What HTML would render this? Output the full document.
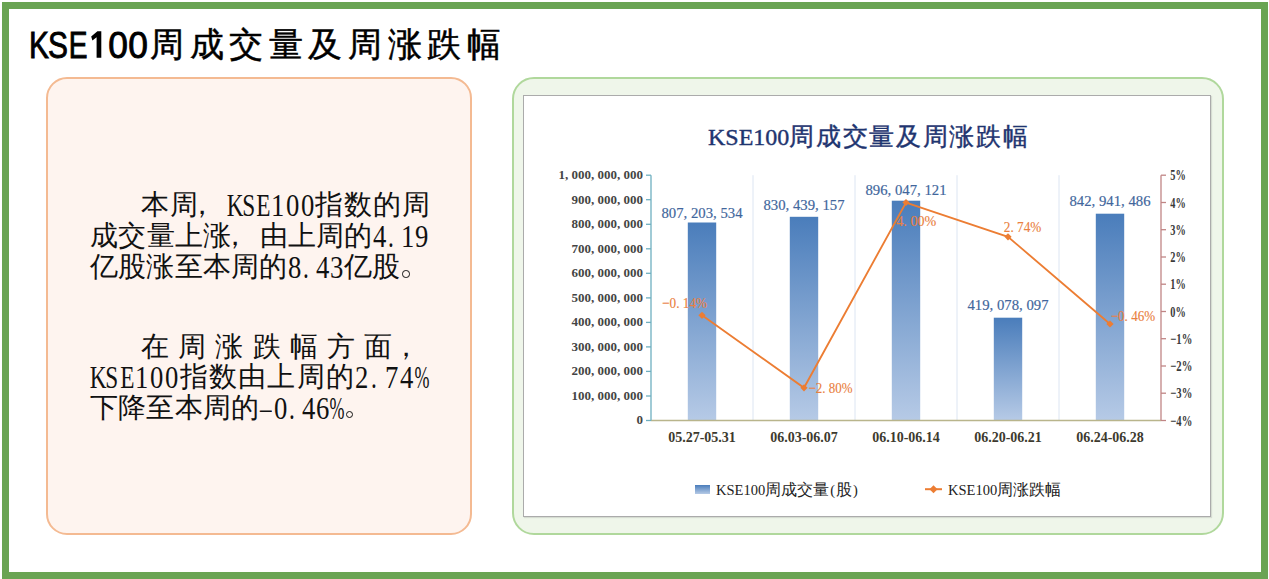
<!DOCTYPE html>
<html><head><meta charset="utf-8">
<style>
html,body{margin:0;padding:0;background:#fff;}
body{width:1269px;height:579px;position:relative;overflow:hidden;font-family:"Liberation Serif",serif;}
.a{position:absolute;}
.frame{left:2px;top:2px;width:1252px;height:562.5px;border:7px solid #6AA453;}
.peach{left:46px;top:77px;width:422px;height:454px;border:2px solid #F4BA92;border-radius:21px;background:#FEF4EF;}
.gbox{left:512px;top:77px;width:707.5px;height:453.5px;border:2px solid #B0D89C;border-radius:22px;background:#EFF6EA;}
.inner{left:523px;top:95px;width:686px;height:420px;border:1px solid #ABABAB;background:#fff;box-shadow:1px 1px 1px rgba(0,0,0,0.10);}
.bt span{position:absolute;display:block;text-align:center;line-height:28px;height:28px;white-space:nowrap;}
.bt .c{font-size:27.5px;width:28px;color:#111;}
.bt .h{font-size:31px;width:20px;color:#111;}
.bt .h i{font-style:normal;display:inline-block;transform:scaleX(0.75);}
.bt .h i.d{transform:scaleX(0.86);}
.bt .h i.p{transform:scaleX(0.58);}
.bt .o{width:7.5px;height:7.5px;border:1.3px solid #111;border-radius:50%;box-sizing:border-box;}
.tt span{position:absolute;display:block;text-align:center;height:40px;line-height:40px;white-space:nowrap;}
.tt .k{font-family:"Liberation Sans",sans-serif;font-size:36px;width:30px;-webkit-text-stroke:0.9px #000;}
.tt .k i{font-style:normal;display:inline-block;transform:scaleX(0.84);}
.tt .k i.z{transform:scaleX(1.08);}
.tt .c{font-size:33.5px;width:40px;-webkit-text-stroke:0.5px #000;}
</style></head><body>
<div class="a frame"></div>
<div class="tt"><span class="k" style="left:23.6px;top:25.5px"><i style="transform:scaleX(0.83)">K</i></span><span class="k" style="left:43.5px;top:25.5px"><i style="transform:scaleX(0.83)">S</i></span><span class="k" style="left:63.3px;top:25.5px"><i style="transform:scaleX(0.78)">E</i></span><svg class="a" style="left:0;top:0" width="160" height="70"><path d="M96.6 57.8V37.2L92.4 40.4L91.2 36.6L97.4 31.2H101.3V57.8Z" fill="#000"/></svg><span class="k" style="left:103.5px;top:25.5px"><i style="transform:scaleX(0.98)">0</i></span><span class="k" style="left:123.0px;top:25.5px"><i style="transform:scaleX(0.98)">0</i></span><span class="c" style="left:147.0px;top:25px">周</span><span class="c" style="left:186.6px;top:25px">成</span><span class="c" style="left:226.2px;top:25px">交</span><span class="c" style="left:265.8px;top:25px">量</span><span class="c" style="left:305.4px;top:25px">及</span><span class="c" style="left:345.0px;top:25px">周</span><span class="c" style="left:384.6px;top:25px">涨</span><span class="c" style="left:424.2px;top:25px">跌</span><span class="c" style="left:463.8px;top:25px">幅</span></div>
<div class="a peach"></div>
<div class="a gbox"></div>
<div class="a inner"></div>
<div class="bt">
<span class="c" style="left:140.8px;top:191.0px">本</span><span class="c" style="left:169.6px;top:191.0px">周</span><span class="c" style="left:188.4px;top:191.0px">，</span><span class="h" style="left:224.2px;top:192.0px"><i>K</i></span><span class="h" style="left:238.9px;top:192.0px"><i>S</i></span><span class="h" style="left:253.6px;top:192.0px"><i>E</i></span><span class="h" style="left:268.2px;top:192.0px"><i class="d">1</i></span><span class="h" style="left:282.9px;top:192.0px"><i class="d">0</i></span><span class="h" style="left:297.6px;top:192.0px"><i class="d">0</i></span><span class="c" style="left:315.2px;top:191.0px">指</span><span class="c" style="left:344.0px;top:191.0px">数</span><span class="c" style="left:372.8px;top:191.0px">的</span><span class="c" style="left:401.6px;top:191.0px">周</span>
<span class="c" style="left:90.0px;top:222.0px">成</span><span class="c" style="left:118.2px;top:222.0px">交</span><span class="c" style="left:146.5px;top:222.0px">量</span><span class="c" style="left:174.7px;top:222.0px">上</span><span class="c" style="left:203.0px;top:222.0px">涨</span><span class="c" style="left:221.2px;top:222.0px">，</span><span class="c" style="left:259.5px;top:222.0px">由</span><span class="c" style="left:287.7px;top:222.0px">上</span><span class="c" style="left:316.0px;top:222.0px">周</span><span class="c" style="left:344.2px;top:222.0px">的</span><span class="h" style="left:369.5px;top:223.0px"><i class="d">4</i></span><span class="h" style="left:380.7px;top:223.0px"><i>.</i></span><span class="h" style="left:397.8px;top:223.0px"><i class="d">1</i></span><span class="h" style="left:411.9px;top:223.0px"><i class="d">9</i></span>
<span class="c" style="left:90.0px;top:253.0px">亿</span><span class="c" style="left:118.2px;top:253.0px">股</span><span class="c" style="left:146.4px;top:253.0px">涨</span><span class="c" style="left:174.6px;top:253.0px">至</span><span class="c" style="left:202.8px;top:253.0px">本</span><span class="c" style="left:231.0px;top:253.0px">周</span><span class="c" style="left:259.2px;top:253.0px">的</span><span class="h" style="left:284.4px;top:254.0px"><i class="d">8</i></span><span class="h" style="left:295.6px;top:254.0px"><i>.</i></span><span class="h" style="left:312.7px;top:254.0px"><i class="d">4</i></span><span class="h" style="left:326.8px;top:254.0px"><i class="d">3</i></span><span class="c" style="left:343.8px;top:253.0px">亿</span><span class="c" style="left:372.0px;top:253.0px">股</span><span class="o" style="left:402.0px;top:270.3px"></span>
<span class="c" style="left:140.8px;top:332.5px">在</span><span class="c" style="left:178.1px;top:332.5px">周</span><span class="c" style="left:215.3px;top:332.5px">涨</span><span class="c" style="left:252.6px;top:332.5px">跌</span><span class="c" style="left:289.8px;top:332.5px">幅</span><span class="c" style="left:327.1px;top:332.5px">方</span><span class="c" style="left:364.3px;top:332.5px">面</span><span class="c" style="left:391.6px;top:332.5px">，</span>
<span class="h" style="left:87.0px;top:364.0px"><i>K</i></span><span class="h" style="left:102.1px;top:364.0px"><i>S</i></span><span class="h" style="left:117.1px;top:364.0px"><i>E</i></span><span class="h" style="left:132.1px;top:364.0px"><i class="d">1</i></span><span class="h" style="left:147.1px;top:364.0px"><i class="d">0</i></span><span class="h" style="left:162.1px;top:364.0px"><i class="d">0</i></span><span class="c" style="left:180.0px;top:363.0px">指</span><span class="c" style="left:209.1px;top:363.0px">数</span><span class="c" style="left:238.2px;top:363.0px">由</span><span class="c" style="left:267.4px;top:363.0px">上</span><span class="c" style="left:296.5px;top:363.0px">周</span><span class="c" style="left:325.6px;top:363.0px">的</span><span class="h" style="left:351.7px;top:364.0px"><i class="d">2</i></span><span class="h" style="left:363.7px;top:364.0px"><i>.</i></span><span class="h" style="left:381.7px;top:364.0px"><i class="d">7</i></span><span class="h" style="left:396.7px;top:364.0px"><i class="d">4</i></span><span class="h" style="left:409.2px;top:364.0px"><i class="p">%</i></span>
<span class="c" style="left:90.0px;top:393.5px">下</span><span class="c" style="left:118.2px;top:393.5px">降</span><span class="c" style="left:146.4px;top:393.5px">至</span><span class="c" style="left:174.6px;top:393.5px">本</span><span class="c" style="left:202.8px;top:393.5px">周</span><span class="c" style="left:231.0px;top:393.5px">的</span><span class="h" style="left:256.2px;top:394.5px"><i>–</i></span><span class="h" style="left:270.4px;top:394.5px"><i class="d">0</i></span><span class="h" style="left:281.5px;top:394.5px"><i>.</i></span><span class="h" style="left:298.6px;top:394.5px"><i class="d">4</i></span><span class="h" style="left:312.7px;top:394.5px"><i class="d">6</i></span><span class="h" style="left:324.3px;top:394.5px"><i class="p">%</i></span><span class="o" style="left:345.6px;top:410.8px"></span>
</div>
<svg class="a" style="left:0;top:0" width="1269" height="579">
<defs><linearGradient id="bg" x1="0" y1="0" x2="0" y2="1"><stop offset="0" stop-color="#4A7DBB"/><stop offset="1" stop-color="#B6CAE6"/></linearGradient></defs>
<text x="708" y="144.5" font-family="Liberation Serif" font-size="24" fill="#1F3570" stroke="#1F3570" stroke-width="0.4">KSE100<tspan font-family="Liberation Sans" font-size="24.5" letter-spacing="1.65">周成交量及周涨跌幅</tspan></text>
<line x1="753.0" y1="175.2" x2="753.0" y2="420.5" stroke="#DCE5F2" stroke-width="1"/>
<line x1="855.0" y1="175.2" x2="855.0" y2="420.5" stroke="#DCE5F2" stroke-width="1"/>
<line x1="957.0" y1="175.2" x2="957.0" y2="420.5" stroke="#DCE5F2" stroke-width="1"/>
<line x1="1059.0" y1="175.2" x2="1059.0" y2="420.5" stroke="#DCE5F2" stroke-width="1"/>
<rect x="687.8" y="222.5" width="28.4" height="198.0" fill="url(#bg)"/>
<rect x="789.8" y="216.8" width="28.4" height="203.7" fill="url(#bg)"/>
<rect x="891.8" y="200.7" width="28.4" height="219.8" fill="url(#bg)"/>
<rect x="993.8" y="317.7" width="28.4" height="102.8" fill="url(#bg)"/>
<rect x="1095.8" y="213.7" width="28.4" height="206.8" fill="url(#bg)"/>
<line x1="651.0" y1="420.5" x2="1161.0" y2="420.5" stroke="#B9B58C" stroke-width="1.3"/>
<line x1="651.0" y1="175.2" x2="651.0" y2="420.5" stroke="#6EAFC0" stroke-width="1.3"/>
<line x1="1161.0" y1="175.2" x2="1161.0" y2="420.5" stroke="#C08585" stroke-width="1.3"/>
<line x1="646" y1="175.2" x2="651.0" y2="175.2" stroke="#6EAFC0" stroke-width="1.3"/>
<text x="643" y="179.1" text-anchor="end" font-size="13" font-weight="bold" fill="#444">1, 000, 000, 000</text>
<line x1="646" y1="199.7" x2="651.0" y2="199.7" stroke="#6EAFC0" stroke-width="1.3"/>
<text x="643" y="203.6" text-anchor="end" font-size="13" font-weight="bold" fill="#444">900, 000, 000</text>
<line x1="646" y1="224.3" x2="651.0" y2="224.3" stroke="#6EAFC0" stroke-width="1.3"/>
<text x="643" y="228.2" text-anchor="end" font-size="13" font-weight="bold" fill="#444">800, 000, 000</text>
<line x1="646" y1="248.8" x2="651.0" y2="248.8" stroke="#6EAFC0" stroke-width="1.3"/>
<text x="643" y="252.7" text-anchor="end" font-size="13" font-weight="bold" fill="#444">700, 000, 000</text>
<line x1="646" y1="273.3" x2="651.0" y2="273.3" stroke="#6EAFC0" stroke-width="1.3"/>
<text x="643" y="277.2" text-anchor="end" font-size="13" font-weight="bold" fill="#444">600, 000, 000</text>
<line x1="646" y1="297.9" x2="651.0" y2="297.9" stroke="#6EAFC0" stroke-width="1.3"/>
<text x="643" y="301.8" text-anchor="end" font-size="13" font-weight="bold" fill="#444">500, 000, 000</text>
<line x1="646" y1="322.4" x2="651.0" y2="322.4" stroke="#6EAFC0" stroke-width="1.3"/>
<text x="643" y="326.3" text-anchor="end" font-size="13" font-weight="bold" fill="#444">400, 000, 000</text>
<line x1="646" y1="346.9" x2="651.0" y2="346.9" stroke="#6EAFC0" stroke-width="1.3"/>
<text x="643" y="350.8" text-anchor="end" font-size="13" font-weight="bold" fill="#444">300, 000, 000</text>
<line x1="646" y1="371.4" x2="651.0" y2="371.4" stroke="#6EAFC0" stroke-width="1.3"/>
<text x="643" y="375.3" text-anchor="end" font-size="13" font-weight="bold" fill="#444">200, 000, 000</text>
<line x1="646" y1="396.0" x2="651.0" y2="396.0" stroke="#6EAFC0" stroke-width="1.3"/>
<text x="643" y="399.9" text-anchor="end" font-size="13" font-weight="bold" fill="#444">100, 000, 000</text>
<line x1="646" y1="420.5" x2="651.0" y2="420.5" stroke="#6EAFC0" stroke-width="1.3"/>
<text x="643" y="424.4" text-anchor="end" font-size="13" font-weight="bold" fill="#444">0</text>
<line x1="1161.0" y1="175.2" x2="1166" y2="175.2" stroke="#C08585" stroke-width="1.3"/>
<text x="1170.3" y="180.3" font-size="15" font-weight="bold" fill="#3A3A3A" textLength="15.5" lengthAdjust="spacingAndGlyphs">5%</text>
<line x1="1161.0" y1="202.5" x2="1166" y2="202.5" stroke="#C08585" stroke-width="1.3"/>
<text x="1170.3" y="207.6" font-size="15" font-weight="bold" fill="#3A3A3A" textLength="15.5" lengthAdjust="spacingAndGlyphs">4%</text>
<line x1="1161.0" y1="229.7" x2="1166" y2="229.7" stroke="#C08585" stroke-width="1.3"/>
<text x="1170.3" y="234.8" font-size="15" font-weight="bold" fill="#3A3A3A" textLength="15.5" lengthAdjust="spacingAndGlyphs">3%</text>
<line x1="1161.0" y1="257.0" x2="1166" y2="257.0" stroke="#C08585" stroke-width="1.3"/>
<text x="1170.3" y="262.1" font-size="15" font-weight="bold" fill="#3A3A3A" textLength="15.5" lengthAdjust="spacingAndGlyphs">2%</text>
<line x1="1161.0" y1="284.2" x2="1166" y2="284.2" stroke="#C08585" stroke-width="1.3"/>
<text x="1170.3" y="289.3" font-size="15" font-weight="bold" fill="#3A3A3A" textLength="15.5" lengthAdjust="spacingAndGlyphs">1%</text>
<line x1="1161.0" y1="311.5" x2="1166" y2="311.5" stroke="#C08585" stroke-width="1.3"/>
<text x="1170.3" y="316.6" font-size="15" font-weight="bold" fill="#3A3A3A" textLength="15.5" lengthAdjust="spacingAndGlyphs">0%</text>
<line x1="1161.0" y1="338.7" x2="1166" y2="338.7" stroke="#C08585" stroke-width="1.3"/>
<text x="1170.3" y="343.8" font-size="15" font-weight="bold" fill="#3A3A3A" textLength="22.0" lengthAdjust="spacingAndGlyphs">−1%</text>
<line x1="1161.0" y1="366.0" x2="1166" y2="366.0" stroke="#C08585" stroke-width="1.3"/>
<text x="1170.3" y="371.1" font-size="15" font-weight="bold" fill="#3A3A3A" textLength="22.0" lengthAdjust="spacingAndGlyphs">−2%</text>
<line x1="1161.0" y1="393.2" x2="1166" y2="393.2" stroke="#C08585" stroke-width="1.3"/>
<text x="1170.3" y="398.3" font-size="15" font-weight="bold" fill="#3A3A3A" textLength="22.0" lengthAdjust="spacingAndGlyphs">−3%</text>
<line x1="1161.0" y1="420.5" x2="1166" y2="420.5" stroke="#C08585" stroke-width="1.3"/>
<text x="1170.3" y="425.6" font-size="15" font-weight="bold" fill="#3A3A3A" textLength="22.0" lengthAdjust="spacingAndGlyphs">−4%</text>
<text x="702.0" y="442" text-anchor="middle" font-size="14" font-weight="bold" fill="#3D3A2E">05.27-05.31</text>
<text x="804.0" y="442" text-anchor="middle" font-size="14" font-weight="bold" fill="#3D3A2E">06.03-06.07</text>
<text x="906.0" y="442" text-anchor="middle" font-size="14" font-weight="bold" fill="#3D3A2E">06.10-06.14</text>
<text x="1008.0" y="442" text-anchor="middle" font-size="14" font-weight="bold" fill="#3D3A2E">06.20-06.21</text>
<text x="1110.0" y="442" text-anchor="middle" font-size="14" font-weight="bold" fill="#3D3A2E">06.24-06.28</text>
<text x="661.5" y="218.4" font-size="15" fill="#41669C" stroke="#41669C" stroke-width="0.18" textLength="81" lengthAdjust="spacingAndGlyphs">807, 203, 534</text>
<text x="763.5" y="209.9" font-size="15" fill="#41669C" stroke="#41669C" stroke-width="0.18" textLength="81" lengthAdjust="spacingAndGlyphs">830, 439, 157</text>
<text x="865.5" y="194.9" font-size="15" fill="#41669C" stroke="#41669C" stroke-width="0.18" textLength="81" lengthAdjust="spacingAndGlyphs">896, 047, 121</text>
<text x="967.5" y="309.5" font-size="15" fill="#41669C" stroke="#41669C" stroke-width="0.18" textLength="81" lengthAdjust="spacingAndGlyphs">419, 078, 097</text>
<text x="1069.5" y="206.4" font-size="15" fill="#41669C" stroke="#41669C" stroke-width="0.18" textLength="81" lengthAdjust="spacingAndGlyphs">842, 941, 486</text>
<polyline points="702.0,315.3 804.0,387.8 906.0,202.5 1008.0,236.8 1110.0,324.0" fill="none" stroke="#EC7D33" stroke-width="1.85"/>
<path d="M702.0 311.7L705.6 315.3L702.0 318.9L698.4 315.3Z" fill="#EC7D33"/>
<path d="M804.0 384.2L807.6 387.8L804.0 391.4L800.4 387.8Z" fill="#EC7D33"/>
<path d="M906.0 198.9L909.6 202.5L906.0 206.1L902.4 202.5Z" fill="#EC7D33"/>
<path d="M1008.0 233.2L1011.6 236.8L1008.0 240.4L1004.4 236.8Z" fill="#EC7D33"/>
<path d="M1110.0 320.4L1113.6 324.0L1110.0 327.6L1106.4 324.0Z" fill="#EC7D33"/>
<text x="662.1" y="307.7" font-size="15" fill="#EA8040" stroke="#EA8040" stroke-width="0.15" textLength="45.0" lengthAdjust="spacingAndGlyphs">−0. 14%</text>
<text x="808.5" y="393.0" font-size="15" fill="#EA8040" stroke="#EA8040" stroke-width="0.15" textLength="44.0" lengthAdjust="spacingAndGlyphs">−2. 80%</text>
<text x="896.3" y="226.3" font-size="15" fill="#EA8040" stroke="#EA8040" stroke-width="0.15" textLength="40.0" lengthAdjust="spacingAndGlyphs">4. 00%</text>
<text x="1003.8" y="231.6" font-size="15" fill="#EA8040" stroke="#EA8040" stroke-width="0.15" textLength="37.5" lengthAdjust="spacingAndGlyphs">2. 74%</text>
<text x="1110.7" y="320.8" font-size="15" fill="#EA8040" stroke="#EA8040" stroke-width="0.15" textLength="44.5" lengthAdjust="spacingAndGlyphs">−0. 46%</text>
<rect x="695" y="485" width="15" height="9" fill="url(#bg)"/>
<text x="716" y="494.5" font-size="14.5" fill="#222">KSE100<tspan font-family="Liberation Sans" font-size="15.5">周成交量</tspan><tspan dx="1">(</tspan><tspan dx="1" font-family="Liberation Sans" font-size="15.5">股</tspan><tspan dx="1">)</tspan></text>
<line x1="925" y1="489.2" x2="942" y2="489.2" stroke="#EC7D33" stroke-width="2"/>
<path d="M933.5 485.2L937.5 489.2L933.5 493.2L929.5 489.2Z" fill="#EC7D33"/>
<text x="948" y="494.5" font-size="14.5" fill="#222">KSE100<tspan font-family="Liberation Sans" font-size="15.5">周涨跌幅</tspan></text>
</svg>
</body></html>
